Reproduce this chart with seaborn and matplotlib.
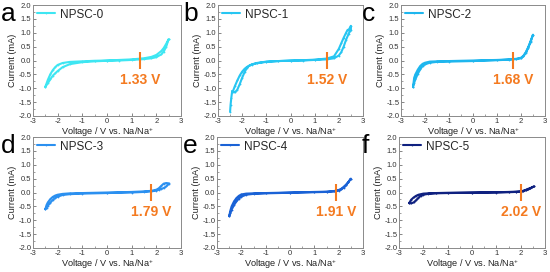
import numpy as np
import pandas as pd
import matplotlib
matplotlib.use("Agg")
import matplotlib.pyplot as plt
import seaborn as sns
from matplotlib.ticker import MultipleLocator, FormatStrFormatter

sns.set_style("ticks")
plt.rcParams['font.family'] = ['Liberation Sans', 'DejaVu Sans']
plt.rcParams['mathtext.fontset'] = 'custom'
plt.rcParams['mathtext.rm'] = 'Liberation Sans'

# ---------------- data ----------------
samples = ["NPSC-0", "NPSC-1", "NPSC-2", "NPSC-3", "NPSC-4", "NPSC-5"]
letters = ["a", "b", "c", "d", "e", "f"]
onset_v = [1.33, 1.52, 1.68, 1.79, 1.91, 2.02]
onset_labels = ["1.33 V", "1.52 V", "1.68 V", "1.79 V", "1.91 V", "2.02 V"]

v_common = [-2.5, -2.45, -2.4, -2.3, -2.2, -2.1, -2.0, -1.8, -1.5, -1.0, 0.0, 1.0, 1.5, 1.8, 2.0, 2.1, 2.2, 2.3, 2.4, 2.5]

v0_up = [-2.5, -2.4, -2.3, -2.2, -2.1, -2.0, -1.8, -1.5, -1.0, -0.5, 0.0, 0.5, 1.0, 1.5, 1.8, 2.0, 2.2, 2.3, 2.4, 2.5]
i0_up = [-0.95, -0.7, -0.5, -0.35, -0.24, -0.16, -0.09, -0.05, -0.03, -0.01, 0.0, 0.02, 0.04, 0.08, 0.13, 0.2, 0.34, 0.45, 0.6, 0.77]
v0_dn = v0_up
i0_dn = [-0.95, -0.82, -0.68, -0.55, -0.46, -0.38, -0.24, -0.13, -0.06, -0.03, -0.01, 0.0, 0.02, 0.05, 0.08, 0.12, 0.22, 0.32, 0.5, 0.77]

v1_up = [-2.5, -2.48, -2.45, -2.42, -2.38, -2.3, -2.2, -2.1, -2.0, -1.9, -1.8, -1.6, -1.4, -1.0, -0.5, 0.0, 0.5, 1.0, 1.5, 1.8, 2.0, 2.1, 2.2, 2.3, 2.36, 2.42, 2.5]
i1_up = [-1.85, -1.6, -1.35, -1.15, -1.1, -0.92, -0.72, -0.54, -0.4, -0.3, -0.23, -0.15, -0.1, -0.05, -0.02, 0.0, 0.01, 0.03, 0.07, 0.15, 0.42, 0.62, 0.82, 1.0, 1.1, 1.12, 1.25]
v1_dn = [-2.42, -2.38, -2.3, -2.2, -2.1, -2.0, -1.9, -1.8, -1.7, -1.6, -1.4, -1.0, -0.5, 0.0, 0.5, 1.0, 1.5, 1.8, 2.0, 2.1, 2.2, 2.3, 2.4, 2.45, 2.5]
i1_dn = [-1.1, -1.12, -1.15, -1.05, -0.85, -0.62, -0.42, -0.26, -0.18, -0.14, -0.09, -0.04, -0.02, -0.01, 0.0, 0.02, 0.04, 0.08, 0.18, 0.3, 0.5, 0.75, 0.95, 1.05, 1.1]

i2_up = [-0.95, -0.62, -0.5, -0.33, -0.2, -0.12, -0.08, -0.04, -0.03, -0.02, 0.0, 0.02, 0.04, 0.06, 0.1, 0.17, 0.3, 0.48, 0.7, 0.93]
i2_dn = [-0.95, -0.8, -0.68, -0.48, -0.32, -0.2, -0.14, -0.08, -0.05, -0.04, -0.02, 0.01, 0.03, 0.05, 0.08, 0.15, 0.27, 0.45, 0.67, 0.93]

i3_up = [-0.6, -0.45, -0.36, -0.24, -0.16, -0.11, -0.08, -0.05, -0.03, -0.02, 0.0, 0.02, 0.04, 0.06, 0.1, 0.15, 0.24, 0.32, 0.34, 0.33]
i3_dn = [-0.6, -0.55, -0.48, -0.37, -0.27, -0.2, -0.15, -0.09, -0.06, -0.04, -0.02, 0.0, 0.02, 0.04, 0.07, 0.1, 0.13, 0.16, 0.22, 0.3]

i4_up = [-0.85, -0.65, -0.5, -0.32, -0.2, -0.12, -0.07, -0.04, -0.03, -0.02, 0.0, 0.02, 0.03, 0.05, 0.09, 0.13, 0.2, 0.28, 0.38, 0.5]
i4_dn = [-0.85, -0.75, -0.62, -0.45, -0.32, -0.22, -0.15, -0.08, -0.05, -0.03, -0.01, 0.01, 0.02, 0.04, 0.07, 0.11, 0.17, 0.26, 0.37, 0.5]

v5_up = [-2.58, -2.5, -2.4, -2.3, -2.2, -2.1, -2.0, -1.8, -1.5, -1.0, 0.0, 1.0, 1.5, 1.8, 2.0, 2.1, 2.2, 2.3, 2.4, 2.55]
i5_up = [-0.38, -0.26, -0.18, -0.12, -0.08, -0.06, -0.04, -0.03, -0.02, -0.01, 0.0, 0.01, 0.02, 0.03, 0.04, 0.06, 0.09, 0.13, 0.16, 0.22]
i5_dn = [-0.38, -0.39, -0.36, -0.28, -0.19, -0.12, -0.08, -0.05, -0.03, -0.02, -0.01, 0.0, 0.01, 0.02, 0.03, 0.05, 0.08, 0.11, 0.15, 0.22]

branches = [
    (v0_up, i0_up, v0_dn, i0_dn),
    (v1_up, i1_up, v1_dn, i1_dn),
    (v_common, i2_up, v_common, i2_dn),
    (v_common, i3_up, v_common, i3_dn),
    (v_common, i4_up, v_common, i4_dn),
    (v5_up, i5_up, v5_up, i5_dn),
]

colors = ["#3ee6f2", "#27c6f2", "#1eb6ee", "#2b90f0", "#1a62d6", "#0f2180"]
orange = "#f47a20"

# ---------------- layout (pixel boxes: left, top, right, bottom) ----------------
W, H = 550, 272
boxes = [
    (33, 5, 181, 116), (218, 5, 363, 116), (401, 5, 545, 116),
    (33, 137, 181, 248), (217, 137, 363, 248), (399, 137, 545, 248),
]
letter_pos = [(1, 2), (183, 2), (362, 2), (1, 134), (183, 134), (362, 134)]

fig = plt.figure(figsize=(W / 100, H / 100), dpi=100)
fig.patch.set_facecolor("white")

for k in range(6):
    l, t, r, b = boxes[k]
    ax = fig.add_axes([l / W, 1 - b / H, (r - l) / W, (b - t) / H])
    vu, iu, vd, idn = branches[k]
    df = pd.DataFrame({
        "V": list(vu) + list(vd)[::-1],
        "I": list(iu) + list(idn)[::-1],
        "sample": samples[k],
    })
    sns.lineplot(data=df, x="V", y="I", sort=False, estimator=None, ax=ax,
                 color=colors[k], lw=1.5, marker="o", markersize=1.3,
                 markeredgewidth=0, label=samples[k])
    ax.set_xlim(-3, 3)
    ax.set_ylim(-2, 2)
    ax.xaxis.set_major_locator(MultipleLocator(1))
    ax.xaxis.set_minor_locator(MultipleLocator(0.5))
    ax.yaxis.set_major_locator(MultipleLocator(0.5))
    ax.yaxis.set_minor_locator(MultipleLocator(0.25))
    ax.yaxis.set_major_formatter(FormatStrFormatter("%.1f"))
    ax.xaxis.set_major_formatter(FormatStrFormatter("%d"))
    ax.tick_params(which="major", direction="in", length=2.2, width=0.5,
                   labelsize=5.5, pad=1.2, colors="#555555", labelcolor="#333333")
    ax.tick_params(which="minor", direction="in", length=1.2, width=0.4, colors="#555555")
    for s in ax.spines.values():
        s.set_color("#8a8a8a")
        s.set_linewidth(0.7)
    ax.set_xlabel("Voltage / V vs. Na/Na$^{+}$", fontsize=6.6, labelpad=0.5, color="#222222")
    ax.set_ylabel("Current (mA)", fontsize=6.6, labelpad=1, color="#222222")
    ax.legend(loc="upper left", frameon=False, fontsize=8.5, handlelength=1.6,
              handletextpad=0.4, borderaxespad=0.1, borderpad=0.2)
    ax.vlines(onset_v[k], -0.3, 0.3, color=orange, lw=1.5)
    ax.text(onset_v[k], -0.72, onset_labels[k], color=orange, fontsize=10,
            fontweight="bold", ha="center", va="center")
    lx, ly = letter_pos[k]
    fig.text(lx / W, 1 - ly / H, letters[k], fontsize=19, ha="left", va="top", color="black")

fig.savefig("out.png", dpi=100, facecolor="white")
